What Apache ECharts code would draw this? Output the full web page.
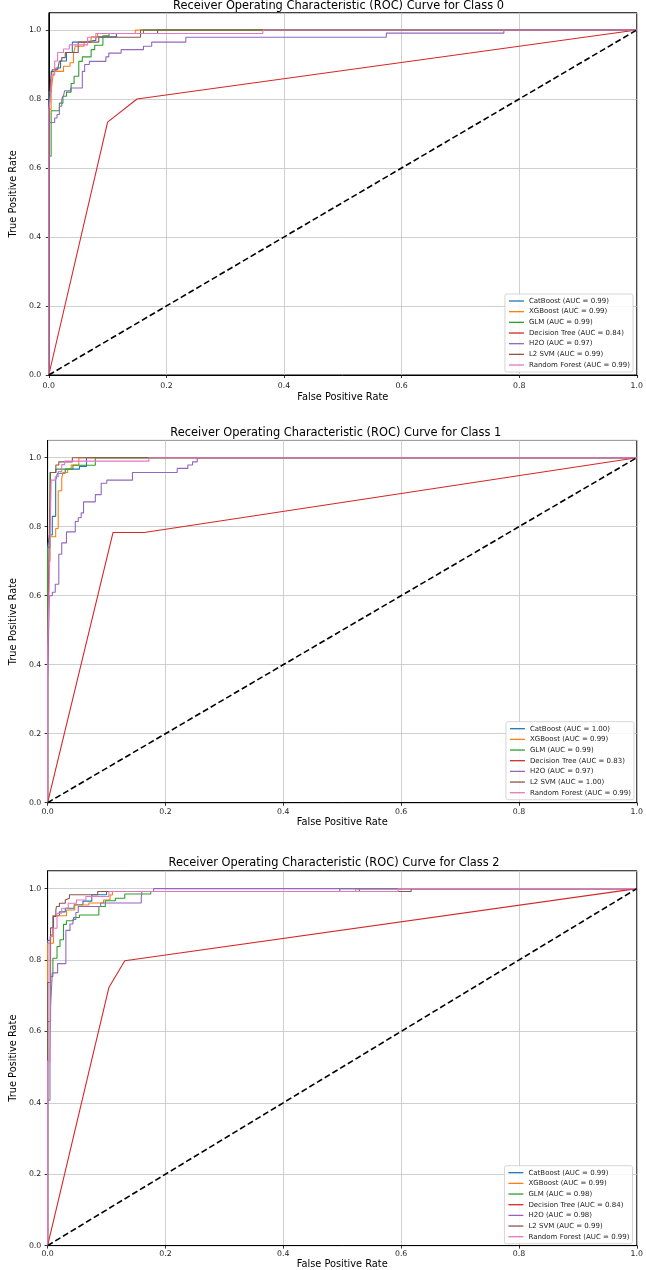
<!DOCTYPE html>
<html>
<head>
<meta charset="utf-8">
<script src="https://cdn.jsdelivr.net/npm/echarts@6/dist/echarts.min.js"></script>
<style>
html,body{margin:0;padding:0;background:#fff;}
#chart{width:646px;height:1270px;}
</style>
</head>
<body>
<div id="chart"></div>
<script>
// ---------------- DATA ----------------
const models = ['CatBoost', 'XGBoost', 'GLM', 'Decision Tree', 'H2O', 'L2 SVM', 'Random Forest'];
const auc0 = ['0.99', '0.99', '0.99', '0.84', '0.97', '0.99', '0.99'];
const auc1 = ['1.00', '0.99', '0.99', '0.83', '0.97', '1.00', '0.99'];
const auc2 = ['0.99', '0.99', '0.98', '0.84', '0.98', '0.99', '0.99'];
const titles = [
  'Receiver Operating Characteristic (ROC) Curve for Class 0',
  'Receiver Operating Characteristic (ROC) Curve for Class 1',
  'Receiver Operating Characteristic (ROC) Curve for Class 2'
];
const xTicks = [0, 0.2, 0.4, 0.6, 0.8, 1.0];
const chance = [[0, 0], [1, 1]];

// ROC points [fpr, tpr]; step curves jump up at the given fpr
// Class 0
const c0_catboost = [[0,0],[0,0.82],[0.004,0.88],[0.012,0.89],[0.02,0.91],[0.03,0.935],[0.04,0.965],[0.06,0.97],[0.08,0.98],[0.115,0.99],[0.185,1.0],[1,1]];
const c0_xgboost = [[0,0],[0,0.77],[0.004,0.824],[0.007,0.866],[0.01,0.88],[0.025,0.895],[0.036,0.905],[0.042,0.93],[0.045,0.953],[0.06,0.965],[0.072,0.98],[0.083,0.99],[0.147,1.0],[1,1]];
const c0_glm = [[0,0],[0,0.634],[0.004,0.766],[0.018,0.788],[0.024,0.808],[0.030,0.82],[0.038,0.845],[0.043,0.866],[0.051,0.909],[0.057,0.922],[0.072,0.943],[0.078,0.956],[0.092,0.983],[0.1025,0.99],[0.161,1.0],[1,1]];
const c0_tree = [[0,0],[0.1,0.733],[0.15,0.8],[1,1]];
const c0_h2o = [[0,0],[0,0.732],[0.01,0.745],[0.014,0.755],[0.018,0.779],[0.022,0.8],[0.025,0.81],[0.027,0.824],[0.037,0.832],[0.057,0.88],[0.061,0.9],[0.069,0.909],[0.097,0.922],[0.102,0.933],[0.123,0.943],[0.161,0.953],[0.175,0.965],[0.233,0.979],[0.574,0.991],[0.774,1.0],[1,1]];
const c0_svm = [[0,0],[0,0.733],[0.003,0.855],[0.006,0.885],[0.015,0.89],[0.018,0.91],[0.022,0.92],[0.028,0.935],[0.05,0.965],[0.085,0.979],[0.156,1.0],[1,1]];
const c0_forest = [[0,0],[0,0.77],[0.003,0.81],[0.005,0.87],[0.01,0.91],[0.015,0.935],[0.025,0.945],[0.035,0.957],[0.066,0.979],[0.08,0.99],[0.364,1.0],[1,1]];
// Class 1
const c1_catboost = [[0,0],[0,0.74],[0.003,0.776],[0.008,0.83],[0.0137,0.935],[0.017,0.955],[0.03,0.967],[0.054,0.975],[0.066,1.0],[1,1]];
const c1_xgboost = [[0,0],[0,0.7],[0.004,0.771],[0.0137,0.795],[0.018,0.904],[0.024,0.94],[0.026,0.957],[0.034,0.967],[0.04,0.979],[0.053,1.0],[1,1]];
const c1_glm = [[0,0],[0,0.74],[0.004,0.957],[0.014,0.967],[0.043,0.978],[0.081,1.0],[1,1]];
const c1_tree = [[0,0],[0.111,0.783],[0.164,0.783],[1,1]];
const c1_h2o = [[0,0],[0,0.35],[0.003,0.6],[0.008,0.61],[0.013,0.633],[0.019,0.72],[0.024,0.753],[0.032,0.785],[0.047,0.815],[0.052,0.826],[0.057,0.84],[0.061,0.872],[0.081,0.893],[0.091,0.926],[0.1005,0.935],[0.144,0.957],[0.220,0.969],[0.238,0.979],[0.246,0.988],[0.254,1.0],[1,1]];
const c1_svm = [[0,0],[0,0.44],[0.003,0.777],[0.005,0.957],[0.014,0.979],[0.019,0.988],[0.042,1.0],[1,1]];
const c1_forest = [[0,0],[0,0.44],[0.003,0.645],[0.006,0.935],[0.013,0.945],[0.018,0.96],[0.024,0.98],[0.029,0.99],[0.172,1.0],[1,1]];
// Class 2
const c2_catboost = [[0,0],[0,0.855],[0.005,0.87],[0.009,0.924],[0.02,0.935],[0.03,0.945],[0.045,0.955],[0.06,0.965],[0.075,0.983],[0.1,0.992],[0.529,1.0],[1,1]];
const c2_xgboost = [[0,0],[0,0.847],[0.01,0.924],[0.032,0.94],[0.046,0.954],[0.07,0.96],[0.095,0.968],[0.106,0.982],[0.11,0.992],[0.523,1.0],[1,1]];
const c2_glm = [[0,0],[0,0.628],[0.005,0.754],[0.009,0.805],[0.016,0.838],[0.021,0.857],[0.027,0.9],[0.032,0.91],[0.044,0.919],[0.054,0.926],[0.087,0.95],[0.098,0.966],[0.115,0.973],[0.131,0.985],[0.175,0.992],[0.496,1.0],[1,1]];
const c2_tree = [[0,0],[0.104,0.723],[0.131,0.798],[1,1]];
const c2_h2o = [[0,0],[0,0.407],[0.004,0.52],[0.005,0.671],[0.008,0.764],[0.017,0.79],[0.031,0.883],[0.038,0.901],[0.043,0.914],[0.048,0.933],[0.052,0.95],[0.09,0.96],[0.159,0.975],[0.16,0.992],[0.18,1.0],[1,1]];
const c2_svm = [[0,0],[0,0.737],[0.005,0.89],[0.01,0.922],[0.014,0.94],[0.015,0.95],[0.02,0.959],[0.03,0.968],[0.033,0.973],[0.037,0.983],[0.085,0.992],[0.617,1.0],[1,1]];
const c2_forest = [[0,0],[0,0.517],[0.004,0.866],[0.009,0.889],[0.016,0.931],[0.024,0.945],[0.035,0.959],[0.049,0.968],[0.065,0.978],[0.104,0.992],[0.595,1.0],[1,1]];

const classCurves = [
  [c0_catboost, c0_xgboost, c0_glm, c0_tree, c0_h2o, c0_svm, c0_forest],
  [c1_catboost, c1_xgboost, c1_glm, c1_tree, c1_h2o, c1_svm, c1_forest],
  [c2_catboost, c2_xgboost, c2_glm, c2_tree, c2_h2o, c2_svm, c2_forest]
];
const classAuc = [auc0, auc1, auc2];

// ---------------- STYLE / LAYOUT ----------------
const colors = ['#1f77b4', '#ff7f0e', '#2ca02c', '#d62728', '#9467bd', '#8c564b', '#e377c2'];
const FONT = 'DejaVu Sans';
const layout = [
  {left: 38.5, top: 12.75, width: 600, height: 362.25, titleTop: -0.5, xMargin: 6.5, xGap: 17, yMargin: 7.5, yGap: 20.5, legTop: 294},
  {left: 32.3, top: 440.45, width: 607, height: 362.25, titleTop: 426.5, xMargin: 5, xGap: 14.5, yMargin: 6.3, yGap: 19.3, legTop: 721.7},
  {left: 30.3, top: 870.8, width: 607.5, height: 375.9, titleTop: 856.5, xMargin: 4.5, xGap: 13, yMargin: 6.3, yGap: 17.3, legTop: 1165.7}
];

const grid = [], xAxis = [], yAxis = [], series = [], legend = [], title = [];
const fmt = v => (Math.abs(v * 5 - Math.round(v * 5)) < 1e-6) ? v.toFixed(1) : '';

layout.forEach((L, k) => {
  grid.push({left: L.left, top: L.top, width: L.width, height: L.height, show: true, borderColor: '#000', borderWidth: 1, backgroundColor: 'transparent'});
  title.push({
    text: titles[k], left: L.left + L.width / 2, top: L.titleTop, textAlign: 'center', padding: 0,
    textStyle: {fontFamily: FONT, fontSize: 11.4, fontWeight: 'normal', color: '#000', lineHeight: 13}
  });
  const common = {
    gridIndex: k, type: 'value', min: 0,
    axisLine: {show: true, onZero: false, lineStyle: {color: '#000', width: 1}},
    axisTick: {show: true, inside: false, length: 3, lineStyle: {color: '#000', width: 0.8}},
    splitLine: {show: true, lineStyle: {color: '#c4c4c4', width: 0.8}},
    nameLocation: 'middle',
    nameTextStyle: {fontFamily: FONT, fontSize: 9.8, color: '#000'}
  };
  xAxis.push(Object.assign({}, common, {
    max: 1, interval: 0.2, name: 'False Positive Rate', nameGap: L.xGap,
    axisLabel: {formatter: fmt, margin: L.xMargin, fontFamily: FONT, fontSize: 7.8, color: '#222'}
  }));
  yAxis.push(Object.assign({}, common, {
    max: 1.05, interval: 0.2, name: 'True Positive Rate', nameGap: L.yGap,
    axisLabel: {formatter: fmt, margin: L.yMargin, fontFamily: FONT, fontSize: 7.8, color: '#222', showMaxLabel: false}
  }));
  const names = [];
  classCurves[k].forEach((pts, m) => {
    const nm = models[m] + ' (AUC = ' + classAuc[k][m] + ')';
    names.push(nm);
    series.push({
      type: 'line', name: nm, xAxisIndex: k, yAxisIndex: k, data: pts,
      step: models[m] === 'Decision Tree' ? false : 'end',
      symbol: 'none', animation: false, silent: true,
      lineStyle: {color: colors[m], width: 1.1},
      itemStyle: {color: colors[m]}
    });
  });
  series.push({
    type: 'line', name: 'chance' + k, xAxisIndex: k, yAxisIndex: k, data: chance,
    symbol: 'none', animation: false, silent: true, z: 5,
    lineStyle: {color: '#000', width: 1.6, type: [6, 3]}
  });
  legend.push({
    data: names, orient: 'vertical', right: [13, 12, 13.5][k], top: L.legTop,
    icon: 'rect', itemWidth: 15, itemHeight: 1.3, itemGap: 2.67,
    padding: [3, 3, 3, 4], backgroundColor: 'rgba(255,255,255,0.85)',
    borderColor: '#cccccc', borderWidth: 0.8, borderRadius: 2,
    textStyle: {fontFamily: FONT, fontSize: 7, color: '#222', lineHeight: 8},
    selectedMode: false
  });
});

const chart = echarts.init(document.getElementById('chart'), null, {renderer: 'canvas'});
chart.setOption({
  backgroundColor: '#fff', animation: false,
  title, grid, xAxis, yAxis, series, legend
});
</script>
</body>
</html>
